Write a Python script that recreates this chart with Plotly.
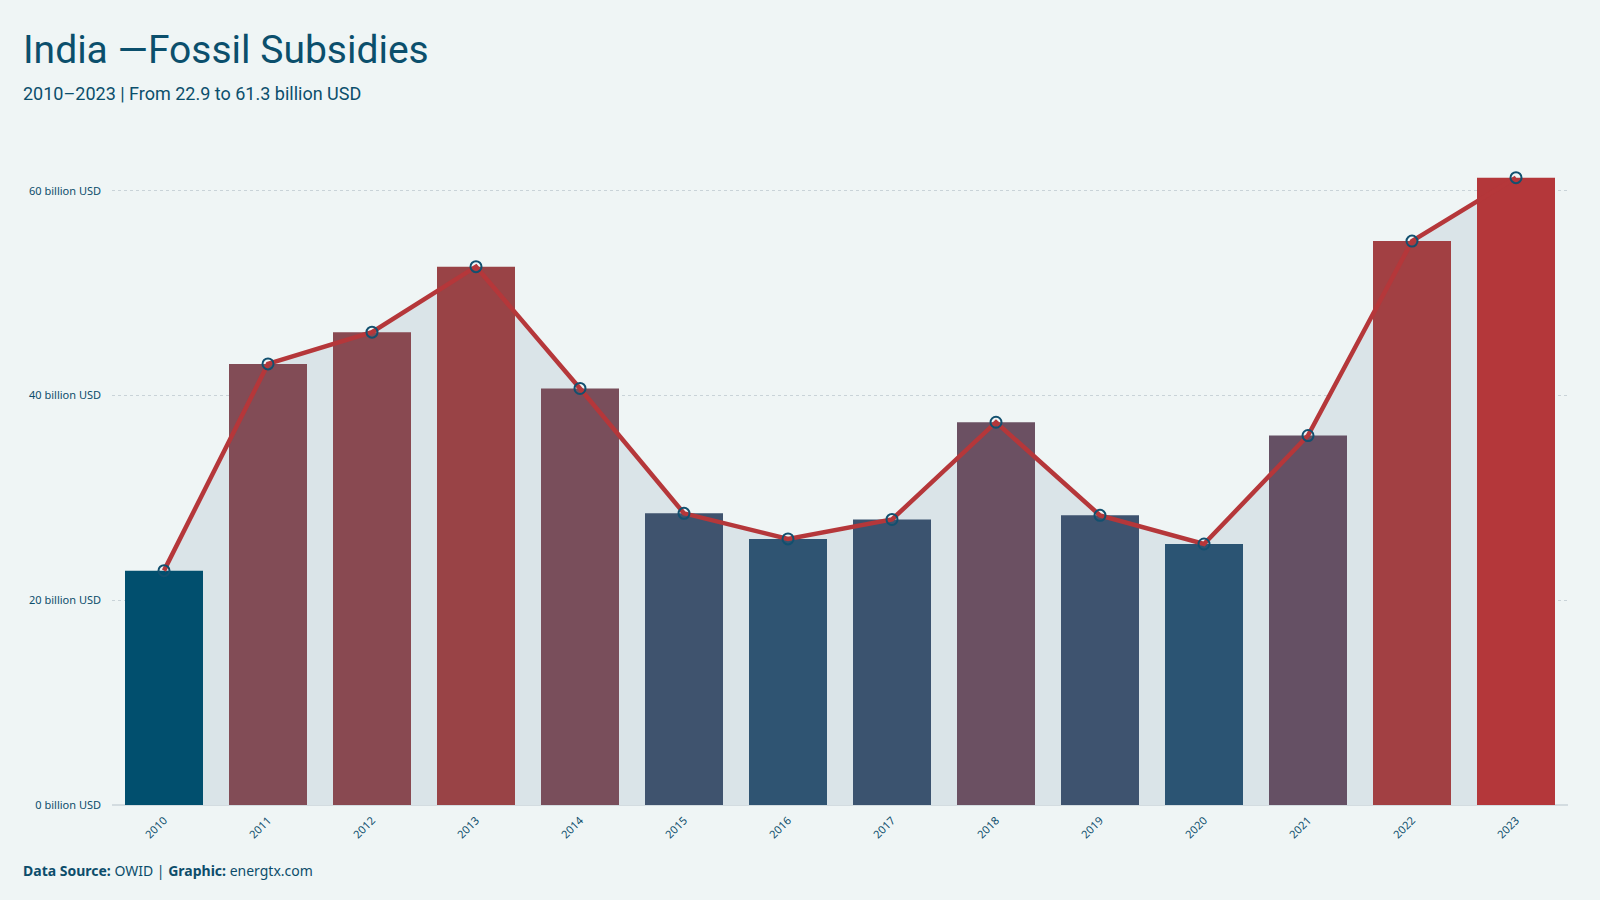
import plotly.graph_objects as go

years = ["2010", "2011", "2012", "2013", "2014", "2015", "2016",
         "2017", "2018", "2019", "2020", "2021", "2022", "2023"]
subsidies = [22.9, 43.1, 46.2, 52.6, 40.7, 28.5, 26.0,
             27.9, 37.4, 28.3, 25.5, 36.1, 55.1, 61.3]
y_ticks = [0, 20, 40, 60]
y_tick_text = [f"{v} billion USD" for v in y_ticks]

BG = "#eff5f5"
TXT = "#0c4d6b"
RED = "#b5373a"
FILL = "#dae4e8"
YR = [0, 64]
XR = [-0.5, len(years) - 0.5]

colorscale = [
    [0.0, "#014f6e"], [0.07, "#2c5473"], [0.15, "#40536e"],
    [0.36, "#685063"], [0.5, "#7f4d58"], [0.78, "#9a4346"],
    [0.85, "#a34043"], [1.0, "#b4373a"],
]

fig = go.Figure()

# filled area under the line (bottom subplot layer)
fig.add_trace(go.Scatter(
    x=years, y=subsidies, mode="lines", fill="tozeroy",
    fillcolor=FILL, line=dict(width=0, color=FILL),
    hoverinfo="skip", showlegend=False, xaxis="x", yaxis="y",
))

fig.add_trace(go.Bar(
    x=years, y=subsidies,
    marker=dict(color=subsidies, colorscale=colorscale,
                cmin=min(subsidies), cmax=max(subsidies), line=dict(width=0)),
    showlegend=False, xaxis="x2", yaxis="y2",
))

fig.add_trace(go.Scatter(
    x=years, y=subsidies, mode="lines+markers",
    line=dict(color=RED, width=4.5),
    marker=dict(size=11, color="rgba(0,0,0,0)",
                line=dict(color="#12506f", width=2)),
    showlegend=False, xaxis="x2", yaxis="y2",
))

fig.update_layout(
    width=1600, height=900,
    paper_bgcolor=BG, plot_bgcolor=BG,
    margin=dict(l=112, r=32, t=150, b=95),
    bargap=0.25,
    font=dict(family="Noto Sans, Open Sans, sans-serif", color=TXT),
    xaxis=dict(
        type="category", categoryorder="array", categoryarray=years,
        range=XR, tickangle=-45, showgrid=False, showline=False,
        tickfont=dict(size=11, color=TXT), ticks="", ticklabelstandoff=6,
    ),
    yaxis=dict(
        range=YR, tickmode="array", tickvals=y_ticks, ticktext=y_tick_text,
        showgrid=True, gridcolor="#c9d3d8", griddash="dot", gridwidth=1,
        zeroline=True, zerolinecolor="#d3dce0", zerolinewidth=2,
        tickfont=dict(size=11, color=TXT), ticks="", ticklabelstandoff=10,
    ),
    xaxis2=dict(
        type="category", categoryorder="array", categoryarray=years,
        range=XR, overlaying="x", matches="x", showticklabels=False,
        showgrid=False, showline=False, ticks="",
    ),
    yaxis2=dict(
        range=YR, overlaying="y", showticklabels=False, showgrid=False,
        zeroline=False, ticks="",
    ),
    annotations=[
        dict(xref="paper", yref="paper", x=-0.0625, y=(805 - 50) / 655,
             xanchor="left", yanchor="middle", showarrow=False,
             text="India —Fossil Subsidies",
             font=dict(family="Roboto, sans-serif", size=39, color="#0b4f6c")),
        dict(xref="paper", yref="paper", x=-0.0625, y=(805 - 93) / 655,
             xanchor="left", yanchor="middle", showarrow=False,
             text="2010–2023 | From 22.9 to 61.3 billion USD",
             font=dict(family="Roboto, sans-serif", size=18, color="#0b4f6c")),
        dict(xref="paper", yref="paper", x=-0.0625, y=(805 - 871) / 655,
             xanchor="left", yanchor="middle", showarrow=False,
             text="<b>Data Source:</b> OWID | <b>Graphic:</b> energtx.com",
             font=dict(size=14, color=TXT)),
    ],
)

fig.write_html("out.html")
